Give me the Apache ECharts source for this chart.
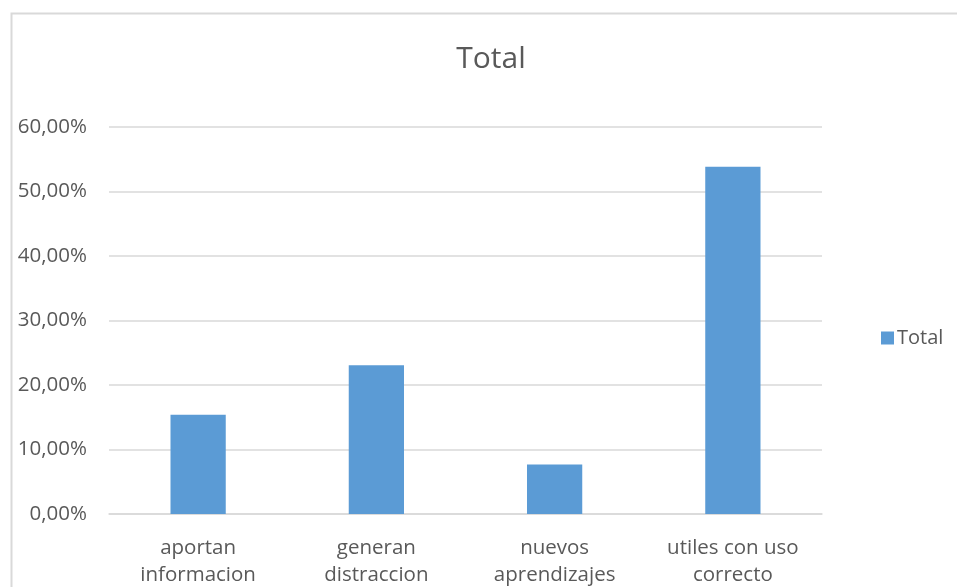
<!DOCTYPE html>
<html>
<head>
<meta charset="utf-8">
<script src="https://cdn.jsdelivr.net/npm/echarts@6/dist/echarts.min.js"></script>
<style>
  html, body { margin: 0; padding: 0; background: #fff; }
  #chart { width: 957px; height: 587px; }
</style>
</head>
<body>
<div id="chart"></div>
<script>
// Categories and share of responses (percent)
const categories = ['aportan\ninformacion', 'generan\ndistraccion', 'nuevos\naprendizajes', 'utiles con uso\ncorrecto'];
const totalValues = [15.38, 23.08, 7.69, 53.85];
const yTicks = { min: 0, max: 60, interval: 10 };

const fontFamily = 'Open Sans, Liberation Sans, sans-serif';
const textColor = '#595959';

const chart = echarts.init(document.getElementById('chart'), null, { renderer: 'canvas' });
chart.setOption({
  animation: false,
  backgroundColor: '#fff',
  graphic: [
    {
      type: 'rect',
      shape: { x: 11.5, y: 13.5, width: 1000, height: 700 },
      style: { fill: 'none', stroke: '#d9d9d9', lineWidth: 2 },
      silent: true, z: -1
    },
    {
      type: 'text',
      x: 491, y: 59,
      style: {
        text: 'Total', font: '30px "Open Sans", sans-serif', fill: textColor,
        align: 'center', verticalAlign: 'middle'
      },
      silent: true
    }
  ],
  legend: {
    data: ['Total'],
    orient: 'vertical',
    left: 876, top: 323,
    itemWidth: 13, itemHeight: 13, itemGap: 6,
    icon: 'rect',
    textStyle: { fontFamily, fontSize: 20, color: textColor, padding: [0, 0, 0, -2] }
  },
  grid: {
    left: 109, right: 135, top: 127, bottom: 73,
    containLabel: false, outerBoundsMode: 'none'
  },
  xAxis: {
    type: 'category',
    data: categories,
    axisLine: { lineStyle: { color: '#d9d9d9', width: 1.5 } },
    axisTick: { show: false },
    axisLabel: { fontFamily, fontSize: 20.5, color: textColor, lineHeight: 27, margin: 21, interval: 0 }
  },
  yAxis: {
    type: 'value',
    min: yTicks.min, max: yTicks.max, interval: yTicks.interval,
    axisLine: { show: false },
    axisTick: { show: false },
    splitLine: { lineStyle: { color: '#d9d9d9', width: 1.5 } },
    axisLabel: {
      fontFamily, fontSize: 20.5, color: textColor, margin: 22,
      formatter: v => v.toFixed(2).replace('.', ',') + '%'
    }
  },
  series: [{
    name: 'Total',
    type: 'bar',
    data: totalValues,
    barWidth: '31%',
    itemStyle: { color: '#5b9bd5' }
  }]
});
</script>
</body>
</html>
